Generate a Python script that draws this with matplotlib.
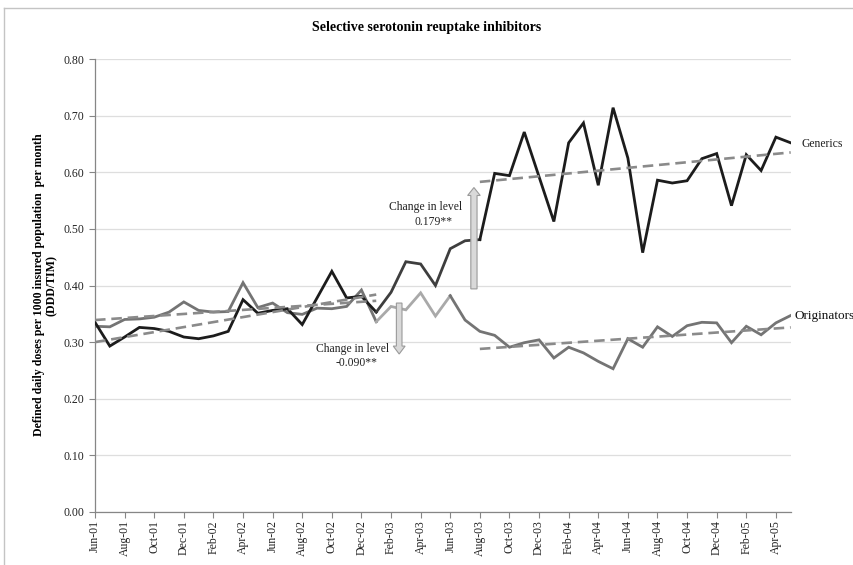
import matplotlib
matplotlib.use("Agg")
import matplotlib.pyplot as plt
import pandas as pd
from matplotlib.patches import FancyArrow
from matplotlib.lines import Line2D

plt.rcParams['font.family'] = ['Liberation Serif', 'DejaVu Serif']

# Monthly observations, Jun-2001 .. May-2005
months = pd.date_range('2001-06-01', periods=48, freq='MS')
month_labels = [d.strftime('%b-%y') for d in months]

generics = [0.335, 0.293, 0.309, 0.326, 0.324, 0.319, 0.309, 0.306, 0.311, 0.319,
            0.375, 0.351, 0.356, 0.359, 0.331, 0.378, 0.425, 0.378, 0.381, 0.353,
            0.388, 0.442, 0.438, 0.400, 0.465, 0.479, 0.481, 0.598, 0.594, 0.671,
            0.592, 0.513, 0.652, 0.687, 0.577, 0.714, 0.625, 0.458, 0.586, 0.581,
            0.585, 0.624, 0.633, 0.541, 0.631, 0.603, 0.662, 0.652]

originators = [0.328, 0.327, 0.340, 0.341, 0.344, 0.353, 0.371, 0.356, 0.353, 0.354,
               0.405, 0.361, 0.369, 0.352, 0.349, 0.360, 0.359, 0.363, 0.392, 0.336,
               0.363, 0.357, 0.387, 0.346, 0.382, 0.339, 0.319, 0.312, 0.291, 0.299,
               0.304, 0.272, 0.291, 0.281, 0.266, 0.253, 0.306, 0.291, 0.327, 0.310,
               0.329, 0.335, 0.334, 0.299, 0.328, 0.313, 0.334, 0.347]

# Segment boundaries (month index): pre-period, transition, post-period
generics_transition = (19, 26)
originators_transition = (19, 24)

# Segmented regression trend lines: ((start month, value), (end month, value))
trend_generics_pre = ((0, 0.300), (19, 0.384))
trend_originators_pre = ((0, 0.339), (19, 0.373))
trend_generics_post = ((26, 0.583), (47, 0.635))
trend_originators_post = ((26, 0.288), (47, 0.326))

# Level changes at the intervention
level_change_generics = 0.179
level_change_originators = -0.090
generics_arrow_base = 0.394
originators_arrow_base = 0.369

y_ticks = [0.0, 0.1, 0.2, 0.3, 0.4, 0.5, 0.6, 0.7, 0.8]

fig = plt.figure(figsize=(8.54, 5.65), dpi=100)
ax = fig.add_axes([95 / 854, 1 - 512 / 565, (790.7 - 95) / 854, (512 - 59) / 565])

x = list(range(len(months)))
LW = 2.0
GEN_C, GEN_T = '#1c1c1c', '#3e3e3e'
ORI_C, ORI_T = '#747474', '#a9a9a9'
TREND_C = '#8a8a8a'


def seg(vals, a, b):
    return x[a:b + 1], vals[a:b + 1]


g0, g1 = generics_transition
o0, o1 = originators_transition
last = len(x) - 1

ax.plot(*seg(originators, 0, o0), color=ORI_C, lw=LW, zorder=3, solid_joinstyle='miter')
ax.plot(*seg(originators, o0, o1), color=ORI_T, lw=LW, zorder=3, solid_joinstyle='miter')
ax.plot(*seg(originators, o1, last), color=ORI_C, lw=LW, zorder=3, solid_joinstyle='miter')
ax.plot(*seg(generics, 0, g0), color=GEN_C, lw=LW, zorder=4, solid_joinstyle='miter')
ax.plot(*seg(generics, g0, g1), color=GEN_T, lw=LW, zorder=4, solid_joinstyle='miter')
ax.plot(*seg(generics, g1, last), color=GEN_C, lw=LW, zorder=4, solid_joinstyle='miter')

for (xa, ya), (xb, yb) in (trend_generics_pre, trend_originators_pre,
                           trend_generics_post, trend_originators_post):
    ax.plot([xa, xb], [ya, yb], color=TREND_C, lw=1.9, dashes=(4.0, 2.2), zorder=5)

# Level change arrows
ax.add_patch(FancyArrow(25.6, generics_arrow_base, 0, level_change_generics,
                        width=0.42, head_width=0.85, head_length=0.014,
                        length_includes_head=True, facecolor='#d9d9d9',
                        edgecolor='#9a9a9a', lw=0.8, zorder=6))
ax.add_patch(FancyArrow(20.55, originators_arrow_base, 0, level_change_originators,
                        width=0.38, head_width=0.8, head_length=0.014,
                        length_includes_head=True, facecolor='#d9d9d9',
                        edgecolor='#9a9a9a', lw=0.8, zorder=6))

tfs = 8.4
ax.text(22.3, 0.538, 'Change in level', ha='center', va='center', fontsize=tfs, color='#222222')
ax.text(22.9, 0.512, f'{level_change_generics:.3f}**', ha='center', va='center', fontsize=tfs, color='#222222')
ax.text(17.4, 0.288, 'Change in level', ha='center', va='center', fontsize=tfs, color='#222222')
ax.text(17.65, 0.264, f'{level_change_originators:.3f}**', ha='center', va='center', fontsize=tfs, color='#222222')

ax.text(47.7, 0.650, 'Generics', ha='left', va='center', fontsize=tfs, color='#222222', clip_on=False)
ax.text(47.25, 0.346, 'Originators', ha='left', va='center', fontsize=9.5, color='#111111', clip_on=False)

# Axes styling
ax.set_xlim(0, last)
ax.set_ylim(0, 0.8)
ax.set_yticks(y_ticks)
ax.set_yticklabels([f'{v:.2f}' for v in y_ticks])
ax.set_xticks(x[::2])
ax.set_xticklabels(month_labels[::2], rotation=90)
ax.tick_params(axis='both', labelsize=8.5, colors='#868686', labelcolor='#222222',
               direction='out', length=4, width=0.8)
ax.tick_params(axis='x', pad=2)
ax.grid(axis='y', color='#dedede', lw=0.9)
ax.set_axisbelow(True)
for side in ('top', 'right'):
    ax.spines[side].set_visible(False)
for side in ('left', 'bottom'):
    ax.spines[side].set_color('#868686')
    ax.spines[side].set_linewidth(0.9)

fig.text(427 / 854, 1 - 27 / 565, 'Selective serotonin reuptake inhibitors',
         ha='center', va='center', fontsize=10, fontweight='bold')
fig.text(45 / 854, 1 - 285 / 565,
         'Defined daily doses per 1000 insured population  per month\n(DDD/TIM)',
         ha='center', va='center', rotation=90, fontsize=8.6, fontweight='bold',
         linespacing=1.1)

# Outer frame
fig.add_artist(Line2D([4 / 854, 1], [1 - 8 / 565, 1 - 8 / 565], color='#c4c4c4', lw=1.0))
fig.add_artist(Line2D([4 / 854, 4 / 854], [0, 1 - 8 / 565], color='#c4c4c4', lw=1.0))

fig.savefig('out.png', dpi=100, facecolor='white')
